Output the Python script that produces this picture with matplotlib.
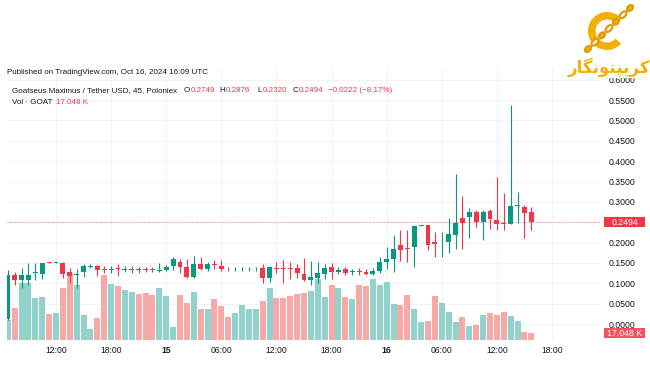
import matplotlib.pyplot as plt
import matplotlib.dates as mdates
import matplotlib.transforms as mtransforms
from matplotlib.patches import Wedge, Ellipse, Rectangle
import numpy as np
import pandas as pd

plt.rcParams['font.family'] = ['Liberation Sans', 'DejaVu Sans']

GREEN = '#089981'
RED = '#F23645'
VOL_GREEN = '#92D2CC'
VOL_RED = '#F7A9A7'
TEXT = '#131722'
GOLD = '#F2B005'

# 45 minute candles, Oct 14 06:45 -> Oct 16 15:45 (UTC)
opens = [0.012, 0.121, 0.107, 0.107, 0.125, 0.124, 0.152, 0.151, 0.151, 0.128,
         0.121, 0.127, 0.139, 0.143, 0.135, 0.133, 0.138, 0.133, 0.132, 0.134,
         0.134, 0.134, 0.131, 0.133, 0.142, 0.153, 0.139, 0.115, 0.147, 0.135,
         0.148, 0.142, 0.136, 0.134, 0.134, 0.134, 0.134, 0.137, 0.114, 0.138,
         0.138, 0.138, 0.138, 0.123, 0.108, 0.112, 0.124, 0.139, 0.127, 0.136,
         0.127, 0.129, 0.128, 0.123, 0.130, 0.152, 0.159, 0.193, 0.187, 0.190,
         0.242, 0.243, 0.202, 0.198, 0.202, 0.219, 0.260, 0.262, 0.274, 0.251,
         0.278, 0.256, 0.249, 0.246, 0.289, 0.287, 0.2749]
highs = [0.133, 0.128, 0.137, 0.149, 0.149, 0.151, 0.153, 0.153, 0.152, 0.137,
         0.134, 0.147, 0.148, 0.145, 0.143, 0.142, 0.147, 0.142, 0.142, 0.140,
         0.140, 0.139, 0.151, 0.145, 0.165, 0.160, 0.160, 0.167, 0.165, 0.152,
         0.157, 0.157, 0.140, 0.139, 0.139, 0.139, 0.140, 0.147, 0.143, 0.153,
         0.157, 0.153, 0.148, 0.163, 0.155, 0.153, 0.147, 0.151, 0.141, 0.141,
         0.135, 0.137, 0.134, 0.137, 0.165, 0.190, 0.219, 0.231, 0.231, 0.243,
         0.244, 0.244, 0.225, 0.225, 0.260, 0.368, 0.314, 0.286, 0.280, 0.280,
         0.283, 0.362, 0.321, 0.538, 0.324, 0.292, 0.2876]
lows = [0.010, 0.095, 0.088, 0.095, 0.108, 0.111, 0.150, 0.150, 0.112, 0.100,
        0.089, 0.115, 0.138, 0.119, 0.125, 0.125, 0.119, 0.127, 0.126, 0.125,
        0.127, 0.127, 0.128, 0.130, 0.133, 0.125, 0.114, 0.114, 0.133, 0.130,
        0.135, 0.131, 0.131, 0.131, 0.131, 0.131, 0.129, 0.101, 0.104, 0.125,
        0.100, 0.110, 0.112, 0.106, 0.097, 0.101, 0.111, 0.111, 0.122, 0.120,
        0.120, 0.121, 0.120, 0.120, 0.125, 0.134, 0.128, 0.155, 0.153, 0.140,
        0.241, 0.182, 0.165, 0.164, 0.175, 0.184, 0.184, 0.212, 0.239, 0.206,
        0.233, 0.231, 0.231, 0.245, 0.247, 0.212, 0.2320]
closes = [0.120, 0.109, 0.120, 0.120, 0.128, 0.151, 0.151, 0.152, 0.124, 0.119,
          0.124, 0.143, 0.142, 0.133, 0.133, 0.135, 0.136, 0.135, 0.134, 0.132,
          0.132, 0.132, 0.133, 0.141, 0.160, 0.139, 0.115, 0.147, 0.134, 0.147,
          0.146, 0.135, 0.134, 0.136, 0.136, 0.136, 0.136, 0.112, 0.139, 0.136,
          0.136, 0.136, 0.126, 0.108, 0.116, 0.125, 0.138, 0.127, 0.133, 0.126,
          0.129, 0.127, 0.124, 0.130, 0.152, 0.160, 0.184, 0.182, 0.184, 0.242,
          0.243, 0.194, 0.197, 0.200, 0.220, 0.249, 0.249, 0.274, 0.250, 0.274,
          0.257, 0.245, 0.245, 0.290, 0.291, 0.2716, 0.2494]
# volume, thousands of GOAT
volumes = [52, 81, 144, 146, 107, 109, 67, 69, 132, 169,
           141, 64, 27, 56, 166, 143, 138, 128, 123, 116,
           119, 114, 133, 113, 34, 114, 93, 122, 80, 79,
           104, 87, 59, 69, 88, 79, 80, 98, 132, 107,
           108, 112, 117, 120, 125, 155, 109, 139, 132, 109,
           105, 139, 138, 155, 139, 148, 92, 88, 115, 80,
           46, 49, 111, 94, 71, 45, 59, 36, 39, 64,
           69, 64, 72, 62, 48, 21, 17.048]

tick_times = ['2024-10-14 12:00', '2024-10-14 18:00', '2024-10-15 00:00',
              '2024-10-15 06:00', '2024-10-15 12:00', '2024-10-15 18:00',
              '2024-10-16 00:00', '2024-10-16 06:00', '2024-10-16 12:00',
              '2024-10-16 18:00']
tick_labels = ['12:00', '18:00', '15', '06:00', '12:00', '18:00', '16',
               '06:00', '12:00', '18:00']
price_ticks = np.arange(0, 0.601, 0.05)

opens = np.array(opens)
highs = np.array(highs)
lows = np.array(lows)
closes = np.array(closes)
volumes = np.array(volumes)
times = pd.date_range('2024-10-14 06:45', periods=len(opens), freq='45min')
x = mdates.date2num(times)
step = 45 / 1440
up = closes >= opens
colors = np.where(up, GREEN, RED)

W, H = 650, 365
fig = plt.figure(figsize=(W / 100, H / 100), dpi=100)
fig.patch.set_facecolor('white')
rect = [7 / W, (H - 340) / H, (600 - 7) / W, (340 - 68) / H]
ax_vol = fig.add_axes(rect)
ax = fig.add_axes(rect, sharex=ax_vol)
ax.patch.set_alpha(0)

# time axis: 12:00 Oct 14 sits at x=56 px, 9.185 px per hour
t_ref = pd.Timestamp('2024-10-14 12:00')
x_left = mdates.date2num(t_ref + pd.Timedelta(hours=(7 - 56) / 9.185))
x_right = mdates.date2num(t_ref + pd.Timedelta(hours=(600 - 56) / 9.185))
ax.set_xlim(x_left, x_right)
ax.set_ylim(-16 / 407, 256 / 407)
ax_vol.set_ylim(0, 692)

# volume
ax_vol.bar(x, volumes, width=step * 0.86, color=np.where(up, VOL_GREEN, VOL_RED),
           lw=0, zorder=2)
blend = mtransforms.blended_transform_factory(ax_vol.transAxes, ax.transData)
for p in price_ticks:
    ax_vol.plot([0, 1], [p, p], color='#F2F3F6', lw=0.7, transform=blend, zorder=0)
ax_vol.grid(axis='x', color='#F2F3F6', lw=0.7, zorder=0)
ax_vol.set_yticks([])
ax_vol.tick_params(axis='x', length=0, labelbottom=False)

# candles
body_lo = np.minimum(opens, closes)
body_h = np.maximum(np.abs(closes - opens), 0.0022)
ax.vlines(x, lows, highs, colors=colors, lw=0.8, zorder=2)
ax.bar(x, body_h, bottom=body_lo, width=step * 0.72, color=colors, lw=0, zorder=3)

for a in (ax, ax_vol):
    for s in a.spines.values():
        s.set_visible(False)

ax.set_xticks(mdates.date2num(pd.to_datetime(tick_times)))
ax.set_xticklabels(tick_labels)
for lab in ax.get_xticklabels():
    if lab.get_text() in ('15', '16'):
        lab.set_fontweight('bold')
ax.tick_params(axis='x', length=0, pad=4.5, labelsize=6.2, labelcolor=TEXT)

# last price line and labels
last = closes[-1]
ax.yaxis.tick_right()
ax.set_yticks(price_ticks)
# the scale label that sits under the last-price box is hidden, as on TradingView
ax.set_yticklabels(['' if abs(p - last) < 0.02 else f'{p:.4f}' for p in price_ticks])
ax.tick_params(axis='y', length=0, pad=6.3, labelsize=6.3, labelcolor=TEXT)

ax.axhline(last, color=RED, lw=0.7, ls=(0, (1, 1.6)), alpha=0.6, zorder=1)
box_w = 41 / 593
bx = (604 - 7) / 593
ax.add_patch(Rectangle((bx, last - 5 / 407), box_w, 10 / 407, transform=blend,
                       fc=RED, ec='none', clip_on=False, zorder=5))
ax.text(bx + box_w / 2, last, f'{last:.4f}', transform=blend, ha='center',
        va='center', color='white', fontsize=6.3, clip_on=False, zorder=6)
vblend = mtransforms.blended_transform_factory(ax_vol.transAxes, ax_vol.transData)
vlast = volumes[-1]
ax.add_patch(Rectangle((bx, vlast - 5 * 2.545), box_w, 10 * 2.545, transform=vblend,
                       fc='#F4525E', ec='none', clip_on=False, zorder=5))
ax.text(bx + box_w / 2, vlast, f'{vlast:.3f} K', transform=vblend, ha='center',
        va='center', color='white', fontsize=6.3, clip_on=False, zorder=6)

# header legend
renderer = fig.canvas.get_renderer()


def put(px, py, parts, size=5.8):
    # write coloured pieces one after another from pixel x
    for s, c in parts:
        t = fig.text(px / W, 1 - py / H, s, ha='left', va='center', color=c,
                     fontsize=size)
        px = t.get_window_extent(renderer).x1 + 0.4


put(7, 73, [('Published on TradingView.com, Oct 16, 2024 16:09 UTC', TEXT)])
put(12, 91, [('Goatseus Maximus / Tether USD, 45, Poloniex', TEXT)])
legend_items = [(184, 'O', opens[-1]), (219.5, 'H', highs[-1]),
                (257.5, 'L', lows[-1]), (292.5, 'C', closes[-1])]
for px, k, v in legend_items:
    put(px, 91, [(k, TEXT), (f'{v:.4f}', RED)])
chg = closes[-1] - closes[-2]
put(328, 91, [(f'\u2212{abs(chg):.4f} (\u2212{abs(chg) / closes[-2] * 100:.2f}%)', RED)])
put(12, 103, [('Vol \u00b7 GOAT', TEXT)])
put(56, 103, [(f'{vlast:.3f} K', RED)])

# logo (top right)
ov = fig.add_axes([0, 0, 1, 1], zorder=10)
ov.set_xlim(0, W)
ov.set_ylim(0, H)
ov.axis('off')
ov.patch.set_alpha(0)
ov.add_patch(Rectangle((566, H - 78), 84, 78, fc='white', ec='none'))
ov.add_patch(Wedge((607, H - 31), 19, 50, 318, width=7.5, fc=GOLD, ec='none'))
p0 = np.array([588, H - 49])
p1 = np.array([630, H - 8])
for k, f in enumerate(np.linspace(0, 1, 7)):
    c = p0 + (p1 - p0) * f
    ov.add_patch(Ellipse(c, 8.5 if k % 2 else 7, 4.8, angle=45,
                         fc='white' if k % 2 else GOLD, ec='#E39A08', lw=1.6))
ov.text(609, H - 67, '\uFEAD\uFE8E\uFB95\uFEE7\uFEEE\uFE98\uFB59\uFBFE\uFEAE\uFB90',
        ha='center', va='center', fontsize=12, fontweight='bold', color=GOLD,
        family='DejaVu Sans')

fig.savefig('out.png', dpi=100)
